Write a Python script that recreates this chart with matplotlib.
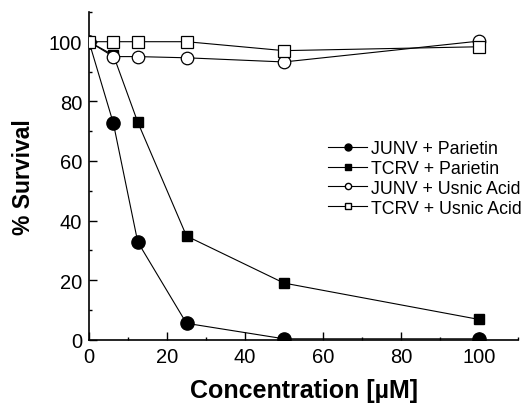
import matplotlib
matplotlib.use("Agg")
import matplotlib.pyplot as plt
from matplotlib.lines import Line2D
from matplotlib.ticker import MultipleLocator

conc_junv_par = [0, 6.25, 12.5, 25, 50, 100]
junv_parietin = [100, 72.6, 32.8, 5.5, 0.3, 0.3]
conc_tcrv_par = [0, 6.25, 12.5, 25, 50, 100]
tcrv_parietin = [100, 95.5, 73, 34.8, 19, 6.8]
conc_usnic = [0, 6.25, 12.5, 25, 50, 100]
junv_usnic = [100, 95, 95, 94.6, 93.2, 100.2]
tcrv_usnic = [100, 100, 100, 100, 97, 98.3]

labels = ["JUNV + Parietin", "TCRV + Parietin", "JUNV + Usnic Acid", "TCRV + Usnic Acid"]
xticks = [0, 20, 40, 60, 80, 100]
yticks = [0, 20, 40, 60, 80, 100]

fig = plt.figure(figsize=(5.21, 4.06), dpi=100)
ax = fig.add_axes([89 / 521, 1 - 340.7 / 406, 429 / 521, 327.8 / 406])

lw = 0.8
ax.plot(conc_junv_par, junv_parietin, color="black", lw=lw, marker="o", ms=9.5,
        mfc="black", mec="black", zorder=3)
ax.plot(conc_tcrv_par, tcrv_parietin, color="black", lw=lw, marker="s", ms=7.8,
        mfc="black", mec="black", zorder=3)
ax.plot(conc_usnic, junv_usnic, color="black", lw=lw, marker="o", ms=9,
        mfc="white", mec="black", mew=0.9, zorder=4)
ax.plot(conc_usnic, tcrv_usnic, color="black", lw=lw, marker="s", ms=8,
        mfc="white", mec="black", mew=0.9, zorder=4)

ax.set_xlim(0, 110)
ax.set_ylim(0, 110)
ax.set_xticks(xticks)
ax.set_yticks(yticks)
ax.xaxis.set_minor_locator(MultipleLocator(10))
ax.yaxis.set_minor_locator(MultipleLocator(10))
for s in ("top", "right"):
    ax.spines[s].set_visible(False)
for s in ("left", "bottom"):
    ax.spines[s].set_linewidth(1.2)
ax.tick_params(which="major", direction="in", length=5.5, width=1.0, pad=5,
               labelsize=14.5, colors="black")
ax.tick_params(which="minor", direction="in", length=2.5, width=1.0)
for lab in ax.get_xticklabels() + ax.get_yticklabels():
    lab.set_family("Liberation Sans")

ax.set_xlabel("Concentration [µM]", fontsize=18, fontweight="bold",
              family="Liberation Sans", labelpad=9)
ax.set_ylabel("% Survival", fontsize=16.5, fontweight="bold",
              family="Liberation Sans", labelpad=10)

handles = [
    Line2D([], [], color="black", lw=lw, marker="o", ms=5, mfc="black", mec="black"),
    Line2D([], [], color="black", lw=lw, marker="s", ms=4.5, mfc="black", mec="black"),
    Line2D([], [], color="black", lw=lw, marker="o", ms=4.5, mfc="white", mec="black"),
    Line2D([], [], color="black", lw=lw, marker="s", ms=4.5, mfc="white", mec="black"),
]
fig.legend(handles, labels, loc="upper left", bbox_to_anchor=(328 / 521, 1 - 141 / 406),
           frameon=False, borderpad=0, borderaxespad=0, handlelength=2.2,
           handletextpad=0.2, labelspacing=0.16,
           prop={"family": "Liberation Sans", "size": 12.8})

fig.savefig("out.png", dpi=100)
